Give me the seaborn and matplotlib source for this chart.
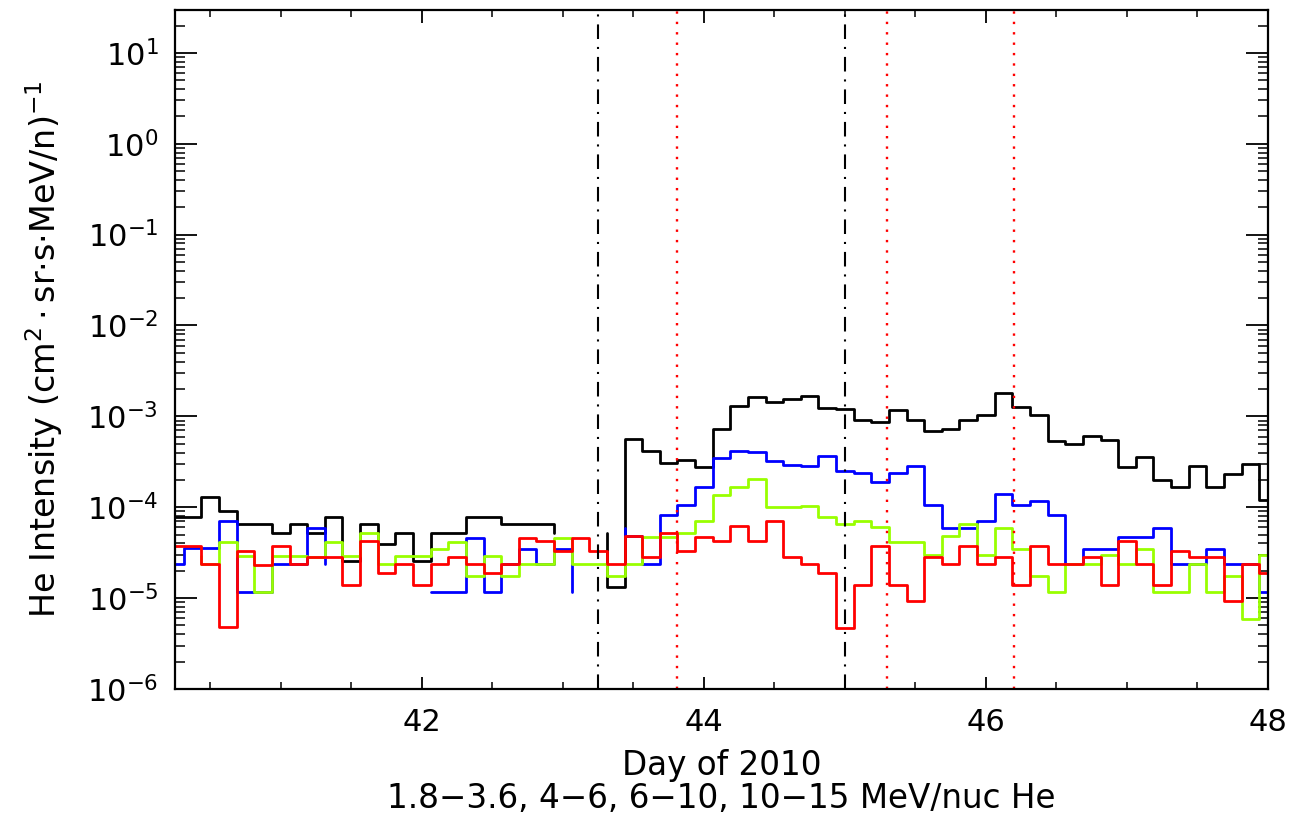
import numpy as np
import pandas as pd
import seaborn as sns
import seaborn.objects as so
import matplotlib.pyplot as plt
from matplotlib.ticker import MultipleLocator, LogLocator, LogFormatterSciNotation

nan = np.nan

# 3-hour averages, day of year 2010
day = np.arange(40.25, 48.0 + 0.001, 0.125)

# He intensity per energy channel, (cm^2 sr s MeV/n)^-1 ; nan = no data
he_1p8_3p6 = [7.9e-5, 7.9e-5, 1.31e-4, 9.1e-5, 6.5e-5, 6.5e-5, 5.26e-5, 6.5e-5, 5.26e-5, 7.9e-5,
              2.59e-5, 6.5e-5, 3.95e-5, 5.26e-5, 2.59e-5, 5.26e-5, 5.26e-5, 7.9e-5, 7.9e-5, 6.5e-5,
              6.5e-5, 6.5e-5, 5.26e-5, nan, 5.26e-5, 1.31e-5, 5.64e-4, 4.12e-4, 3.07e-4, 3.28e-4,
              2.75e-4, 7.33e-4, 1.29e-3, 1.64e-3, 1.43e-3, 1.56e-3, 1.69e-3, 1.24e-3, 1.22e-3, 9.19e-4,
              8.66e-4, 1.19e-3, 9.19e-4, 6.95e-4, 7.33e-4, 9.05e-4, 1.03e-3, 1.81e-3, 1.26e-3, 1.04e-3,
              5.31e-4, 5.0e-4, 6.02e-4, 5.53e-4, 2.75e-4, 3.54e-4, 1.97e-4, 1.69e-4, 2.86e-4, 1.69e-4,
              2.34e-4, 2.99e-4, 1.19e-4]
he_4_6 = [2.35e-5, 3.54e-5, 3.54e-5, 7.07e-5, 1.18e-5, 1.18e-5, 2.35e-5, 2.35e-5, 5.88e-5, 2.35e-5,
          nan, 3.54e-5, nan, nan, 1.18e-5, 1.18e-5, 1.18e-5, 4.63e-5, 1.18e-5, 2.35e-5,
          3.5e-5, 2.35e-5, 3.5e-5, 1.18e-5, nan, 5.9e-5, 4.85e-5, 2.37e-5, 8.26e-5, 1.06e-4,
          1.65e-4, 3.45e-4, 4.19e-4, 4.08e-4, 3.25e-4, 2.94e-4, 2.86e-4, 3.69e-4, 2.52e-4, 2.38e-4,
          1.89e-4, 2.38e-4, 2.86e-4, 1.06e-4, 5.89e-5, 5.89e-5, 7.1e-5, 1.41e-4, 1.06e-4, 1.18e-4,
          8.26e-5, 2.37e-5, 3.49e-5, 3.49e-5, 4.69e-5, 4.69e-5, 5.89e-5, 2.37e-5, 2.37e-5, 3.49e-5,
          2.37e-5, 2.37e-5, 1.18e-5]
he_6_10 = [nan, 2.91e-5, 2.35e-5, 4.19e-5, 2.91e-5, 1.18e-5, 2.91e-5, 2.91e-5, 2.82e-5, 4.19e-5,
           2.91e-5, 5.26e-5, 2.35e-5, 2.91e-5, 2.91e-5, 3.5e-5, 4.19e-5, 1.75e-5, 2.91e-5, 1.75e-5,
           2.35e-5, 2.35e-5, 4.63e-5, 2.35e-5, 2.35e-5, 1.76e-5, 2.37e-5, 4.7e-5, 4.7e-5, 5.27e-5,
           6.97e-5, 1.35e-4, 1.69e-4, 2.06e-4, 1.0e-4, 1.0e-4, 1.04e-4, 7.72e-5, 6.52e-5, 7.1e-5,
           6.0e-5, 4.13e-5, 4.13e-5, 3.0e-5, 4.77e-5, 6.52e-5, 2.95e-5, 5.89e-5, 3.49e-5, 1.77e-5,
           1.18e-5, 2.37e-5, 2.37e-5, 2.95e-5, 2.37e-5, 3.49e-5, 1.18e-5, 1.18e-5, 2.37e-5, 1.18e-5,
           1.76e-5, 5.85e-6, 2.95e-5]
he_10_15 = [3.75e-5, 3.75e-5, 2.35e-5, 4.78e-6, 3.33e-5, 2.32e-5, 3.75e-5, 2.35e-5, 2.82e-5, 2.82e-5,
            1.40e-5, 4.26e-5, 1.87e-5, 2.35e-5, 1.40e-5, 2.35e-5, 2.82e-5, 2.35e-5, 1.87e-5, 2.35e-5,
            4.63e-5, 4.26e-5, 3.33e-5, 4.63e-5, 3.33e-5, 2.37e-5, 4.77e-5, 2.82e-5, 5.19e-5, 3.32e-5,
            4.66e-5, 4.21e-5, 6.16e-5, 4.21e-5, 6.98e-5, 2.82e-5, 2.37e-5, 1.91e-5, 4.67e-6, 1.40e-5,
            3.77e-5, 1.40e-5, 9.4e-6, 2.82e-5, 2.37e-5, 3.77e-5, 2.37e-5, 2.82e-5, 1.40e-5, 3.77e-5,
            2.37e-5, 2.37e-5, 2.82e-5, 1.40e-5, 4.21e-5, 2.37e-5, 1.40e-5, 3.27e-5, 2.82e-5, 2.82e-5,
            9.4e-6, 2.37e-5, 1.88e-5]

channels = ["1.8-3.6", "4-6", "6-10", "10-15"]
channel_colors = ["black", "#0000ff", "#99ff00", "#ff0000"]

shock_days = [43.25, 45.0]          # black dash-dot markers
event_days = [43.81, 45.30, 46.20]  # red dotted markers

sns.set_style("ticks")
plt.rcParams['font.family'] = ['DejaVu Sans']
plt.rcParams['mathtext.default'] = 'regular'
for key in ['text.color', 'axes.labelcolor', 'xtick.color', 'ytick.color', 'axes.edgecolor']:
    plt.rcParams[key] = 'black'

df = pd.DataFrame({
    "day": np.tile(day, len(channels)),
    "intensity": np.concatenate([he_1p8_3p6, he_4_6, he_6_10, he_10_15]),
    "channel": np.repeat(channels, len(day)),
})

fig = plt.figure(figsize=(12.99, 8.22), dpi=100)
ax = fig.add_axes([175 / 1299, 1 - 689 / 822, (1268 - 175) / 1299, (689 - 9.5) / 822])

# Path keeps missing values as gaps, steps centred on each 3-h bin
(
    so.Plot(df, x="day", y="intensity", color="channel")
    .add(so.Path(linewidth=2.0, artist_kws={"drawstyle": "steps-mid"}), legend=False)
    .scale(y="log", color=so.Nominal(dict(zip(channels, channel_colors)), order=channels))
    .theme({**sns.axes_style("ticks"), "font.family": ["DejaVu Sans"]})
    .on(ax)
    .plot()
)

for d in shock_days:
    ax.axvline(d, color="black", linewidth=1.5, dashes=(7, 3.8, 1.0, 3.8))
for d in event_days:
    ax.axvline(d, color="#ff0000", linewidth=1.7, dashes=(1, 3.4))

ax.grid(False)
ax.set_facecolor("white")
ax.set_xlim(40.25, 48.0)
ax.set_ylim(1e-6, 30)
ax.xaxis.set_major_locator(MultipleLocator(2))
ax.xaxis.set_minor_locator(MultipleLocator(0.5))
ax.xaxis.set_major_formatter(lambda v, pos: f"{v:g}")
ax.yaxis.set_major_locator(LogLocator(base=10, numticks=20))
ax.yaxis.set_minor_locator(LogLocator(base=10, subs=np.arange(2, 10), numticks=100))
ax.yaxis.set_major_formatter(LogFormatterSciNotation())

ax.tick_params(axis="x", which="major", direction="in", length=9, width=1.3, top=True,
               labelsize=22, pad=14, colors="black")
ax.tick_params(axis="x", which="minor", direction="in", length=5, width=1.1, top=True, colors="black")
ax.tick_params(axis="y", which="major", direction="in", length=16, width=1.3, right=True,
               labelsize=22, pad=12, colors="black")
ax.tick_params(axis="y", which="minor", direction="in", length=7, width=1.1, right=True, colors="black")
for s in ax.spines.values():
    s.set_visible(True)
    s.set_linewidth(1.6)
    s.set_color("black")

ax.set_xlabel("Day of 2010\n1.8\u22123.6, 4\u22126, 6\u221210, 10\u221215 MeV/nuc He",
              fontsize=23.5, linespacing=1.0, labelpad=8, color="black")
ax.set_ylabel(r"He Intensity (cm$^2\cdot$sr$\cdot$s$\cdot$MeV/n)$^{-1}$",
              fontsize=24, labelpad=16, color="black")

fig.savefig("out.png", dpi=100)
